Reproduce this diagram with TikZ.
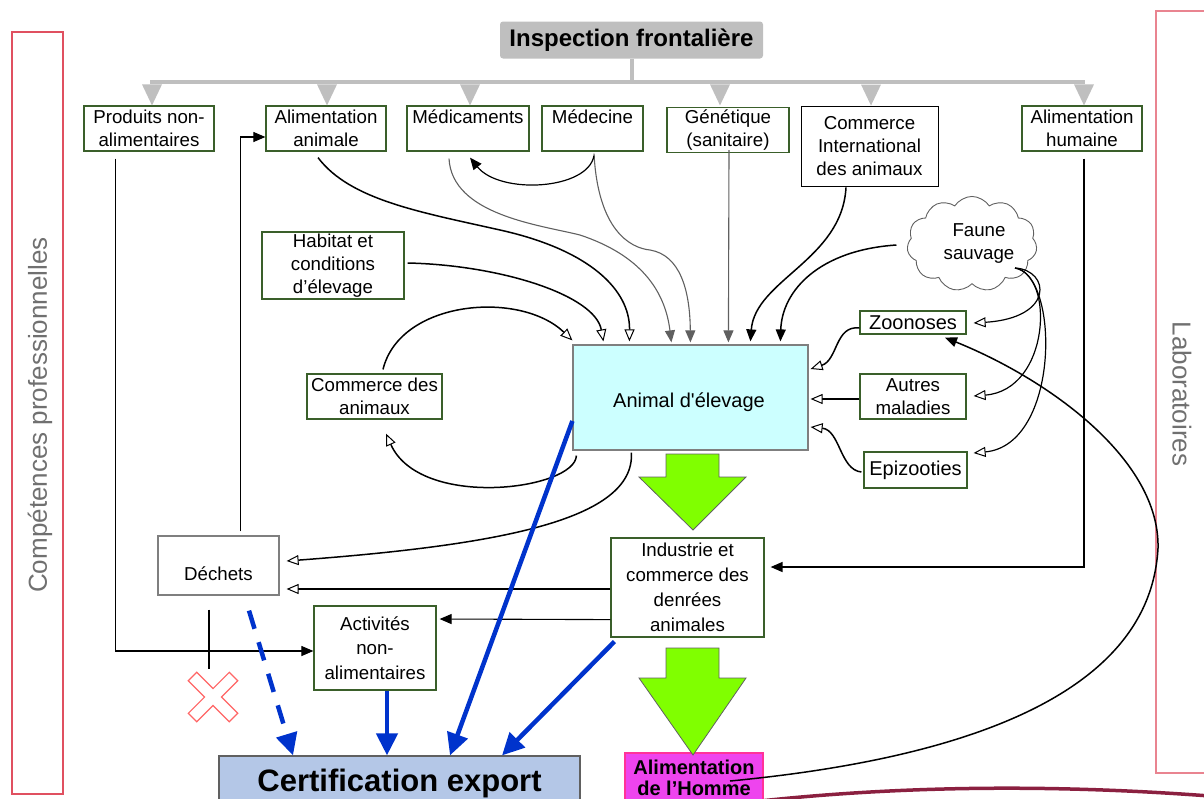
\documentclass[tikz,border=0pt]{standalone}
\usepackage{fontspec}
\setmainfont{Liberation Sans}
\usetikzlibrary{arrows.meta,shapes.symbols,calc}
\definecolor{boxgreen}{HTML}{3A5F2A}
\definecolor{inspgray}{HTML}{BFBFBF}
\definecolor{sidered}{HTML}{E05060}
\definecolor{sidetext}{HTML}{707070}
\definecolor{animcyan}{HTML}{CCFFFF}
\definecolor{certblue}{HTML}{B4C7E7}
\definecolor{homme}{HTML}{EE44EE}
\definecolor{hommeborder}{HTML}{FF3399}
\definecolor{bigarrow}{HTML}{80FF00}
\definecolor{blueline}{HTML}{0033CC}
\definecolor{thingray}{HTML}{606060}
\definecolor{boxgray}{HTML}{7F7F7F}
\definecolor{maroon}{HTML}{8B2040}
\begin{document}
\begin{tikzpicture}[x=1pt,y=-1pt,
  box/.style={draw=boxgreen, line width=1.2pt, fill=white, inner sep=0pt, align=center,
    font=\fontsize{18.7}{23}\selectfont},
  graybox/.style={box, draw=boxgray},
  boxtext/.style={inner sep=0pt, align=center, font=\fontsize{18.7}{23}\selectfont},
  insp/.style={fill=inspgray, rounded corners=3pt, minimum width=263pt, minimum height=37pt,
    inner sep=0pt, font=\bfseries\fontsize{24}{28}\selectfont},
  graytree/.style={draw=inspgray, line width=4pt},
  sidebox/.style={draw=sidered, line width=1.1pt},
  sidelabel/.style={text=sidetext, font=\fontsize{26}{30}\selectfont, inner sep=0pt},
  conn/.style={line width=1.5pt, draw=black},
  thin/.style={line width=1.1pt, draw=thingray},
  openarr/.style={-{Triangle[length=12pt,width=10pt,fill=white,line width=1pt]}},
  fillarr/.style={-{Triangle[length=12pt,width=10pt]}},
  bluearr/.style={draw=blueline, line width=4.5pt, -{Triangle[length=22pt,width=21pt]}},
  greenarr/.style={fill=bigarrow, draw=thingray, line width=0.8pt},
  redx/.style={draw=red!60, line width=1.1pt, fill=white}
]
\useasboundingbox (0,0) rectangle (1204,798);
\clip (0,0) rectangle (1204,798);

% side frames
\node[sidebox, minimum width=51pt, minimum height=762pt, inner sep=0pt] (leftframe) at (37.5,413) {};
\node[sidebox, draw=sidered!70, minimum width=60pt, minimum height=762pt, inner sep=0pt] (rightframe) at (1186,392) {};
\node[sidelabel, rotate=90] (competences) at (40,415) {Compétences professionnelles};
\node[sidelabel, rotate=-90] (labos) at (1182,394) {Laboratoires};

% maroon curve at bottom
\draw[maroon, line width=3.5pt] (760,801) .. controls (900,786) and (1050,784) .. (1210,796);

% nodes
\node[insp] (insp) at (631.5,40) {Inspection frontalière};
\node[box, minimum width=130pt, minimum height=45pt] (prod) at (149,128.5) {Produits non-\\alimentaires};
\node[box, minimum width=120pt, minimum height=45pt] (alan) at (326,128.5) {Alimentation\\animale};
\node[box, minimum width=122pt, minimum height=45pt] (medic) at (468,128.5) {Médicaments\\\mbox{}};
\node[box, minimum width=101pt, minimum height=45pt] (medec) at (592.5,128.5) {Médecine\\\mbox{}};
\node[box, minimum width=122pt, minimum height=45pt] (gen) at (728,130) {Génétique\\(sanitaire)};
\node[box, draw=black, line width=0.9pt, minimum width=137pt, minimum height=80pt] (comint) at (869.5,146) {Commerce\\International\\des animaux};
\node[box, minimum width=120pt, minimum height=45pt] (alhum) at (1082,128.5) {Alimentation\\humaine};
\node[box, minimum width=142pt, minimum height=67pt] (hab) at (333,265.5) {Habitat et\\conditions\\d’élevage};
\node[box, minimum width=135pt, minimum height=45pt] (comanim) at (374.5,396.5) {Commerce des\\animaux};
\node[graybox, fill=animcyan, minimum width=235pt, minimum height=105pt] (animal) at (690.5,397.5) {};
\node[boxtext, font=\fontsize{20}{24}\selectfont] (animaltext) at (689,402) {Animal d\textquotesingle élevage};
\node[box, minimum width=106pt, minimum height=23pt, font=\fontsize{20}{24}\selectfont] (zoo) at (913,322.5) {Zoonoses};
\node[box, minimum width=106pt, minimum height=45pt] (autres) at (913,396.5) {Autres\\maladies};
\node[box, minimum width=103pt, minimum height=36pt, font=\fontsize{20}{24}\selectfont] (epi) at (915.5,470) {Epizooties};
\node[cloud, draw=thingray, line width=0.9pt, cloud puffs=11, cloud puff arc=115, aspect=1.5,
  minimum width=130pt, minimum height=87pt, inner sep=0pt, align=center,
  font=\fontsize{18.7}{23}\selectfont] (faune) at (972,244) {\hspace*{14pt}Faune\\\hspace*{14pt}sauvage};
\node[graybox, minimum width=121pt, minimum height=59pt] (dech) at (218.5,565.5) {};
\node[boxtext] (dechtext) at (218.5,574) {Déchets};
\node[box, minimum width=153pt, minimum height=99pt, font=\fontsize{18.7}{25}\selectfont] (indus) at (687.5,587.5) {Industrie et\\commerce des\\denrées\\animales};
\node[box, minimum width=122pt, minimum height=84pt, font=\fontsize{18.7}{24.5}\selectfont] (activ) at (375,648) {Activités\\non-\\alimentaires};
\node[graybox, draw=thingray, fill=certblue, minimum width=361pt, minimum height=54pt, font=\bfseries\fontsize{31}{36}\selectfont] (cert) at (399.5,783) {Certification export};
\node[box, draw=hommeborder, fill=homme, minimum width=138pt, minimum height=50pt, font=\bfseries\fontsize{20}{21}\selectfont] (alhom) at (694,778) {Alimentation\\de l’Homme};

% gray inspection tree
\draw[graytree] (insp.south) -- ++(0,25) coordinate (hub);
\draw[graytree] ($(prod.north)+(1,-23)$) -- ($(alhum.north)+(3,-23)$);
\foreach \n/\dx in {prod/3, alan/1, medic/2, comint/1.5, alhum/2}
  \fill[inspgray] ($(\n.north)+({\dx-10},-21)$) -- ++(20,0) -- ($(\n.north)+(\dx,0)$) -- cycle;
\fill[inspgray] ($(gen.north)+(-18,-22.5)$) -- ++(20,0) -- ($(gen.north)+(-8,-1.5)$) -- cycle;

% big green arrows
\draw[greenarr] (666,454) -- (719,454) -- (719,477) -- (746,477) -- (693,530) -- (639,477) -- (666,477) -- cycle;
\draw[greenarr] (666,648) -- (719,648) -- (719,678) -- (746,678) -- (693,755) -- (639,678) -- (666,678) -- cycle;

% connectors into Animal d'élevage
\draw[conn, openarr] ($(alan.south)+(-8,6)$) .. controls (350,200) and (420,212) .. (500,230)
   .. controls (590,250) and (630,290) .. ($(animal.north west)+(57,-3)$);
\draw[conn, openarr] ($(hab.east)+(3,-2.5)$) .. controls (500,265) and (595,295) .. ($(animal.north west)+(31,-3)$);
\draw[conn, openarr] ($(comanim.north)+(8.5,-4)$) .. controls (400,300) and (520,290) .. ($(animal.north west)+(0,-4)$);
\draw[conn, openarr] ($(animal.south west)+(4,5)$) .. controls (575,490) and (420,510) .. ($(comanim.south)+(11.5,14)$);
\draw[conn, openarr] ($(animal.south west)+(59,2)$) .. controls (635,520) and (500,545) .. ($(dech.east)+(7,-4.5)$);
\draw[thin, fillarr] ($(medic.south)+(-19,7)$) .. controls (452,215) and (540,225) .. (580,235)
   .. controls (640,255) and (665,290) .. ($(animal.north west)+(99,-2)$);
\draw[thin, fillarr] ($(medec.south)+(1.5,2)$) .. controls (598,230) and (630,248) .. (650,250)
   .. controls (680,255) and (690,290) .. ($(animal.north west)+(118,-2)$);
\draw[conn, line width=1.2pt, fillarr] ($(medec.south)+(1.5,4)$) .. controls (588,190) and (500,195) .. ($(medic.south)+(2,6)$);
\draw[thin, fillarr] ($(gen.south)+(1,-3)$) -- ($(animal.north west)+(156,-2)$);
\draw[conn, fillarr] ($(comint.south)+(-23.5,1)$) .. controls (842,260) and (755,280) .. ($(animal.north west)+(178,-3)$);
\draw[conn, fillarr] ($(faune.west)+(-11,1)$) .. controls (820,250) and (782,290) .. ($(animal.north west)+(208,-3)$);

% faune sauvage to diseases
\coordinate (fs) at (1015,268);
\draw[conn, line width=1.2pt, openarr] (fs) .. controls (1050,270) and (1055,318) .. ($(zoo.east)+(7,0.5)$);
\draw[conn, line width=1.2pt, openarr] (fs) .. controls (1055,275) and (1050,390) .. ($(autres.east)+(7,-0.5)$);
\draw[conn, line width=1.2pt, openarr] (fs) .. controls (1060,275) and (1060,445) .. ($(epi.east)+(6,-17)$);

% diseases to animal
\draw[conn, openarr] ($(zoo.west)+(0,5.5)$) .. controls (835,325) and (838,360) .. ($(animal.east)+(2,-28.5)$);
\draw[conn, openarr] ($(autres.west)+(0,2.5)$) -- ($(animal.east)+(2,1.5)$);
\draw[conn, openarr] ($(epi.west)+(-2,2)$) .. controls (840,470) and (840,430) .. ($(animal.east)+(2,29.5)$);

% alimentation humaine to industrie
\draw[conn, fillarr] ($(alhum.south)+(2,7)$) |- ($(indus.east)+(6,-20.5)$);

% alimentation de l'Homme to zoonoses
\draw[conn, fillarr] ($(alhom.center)+(36,3)$) .. controls (950,760) and (1150,700) .. (1158,548)
   .. controls (1160,460) and (1050,380) .. ($(zoo.south)+(32,3)$);

% left side connectors
\draw[conn, line width=1.1pt, fillarr] ($(prod.south west)+(32,7)$) |- ($(activ.west)+(0,3)$);
\draw[conn, line width=1.1pt, fillarr] ($(dech.north east)+(-39,-4)$) |- ($(alan.west)+(0,8.5)$);
\draw[conn, line width=1.1pt] ($(dech.south)+(-9.5,14)$) -- ++(0,59) coordinate (crossend);
\begin{scope}[shift={(213,697)}, rotate=45]
  \draw[redx] (6,29)--(6,6)--(29,6)--(29,-6)--(6,-6)--(6,-29)--(-6,-29)--(-6,-6)--(-29,-6)--(-29,6)--(-6,6)--(-6,29)--cycle;
\end{scope}
\draw[conn, openarr] ($(indus.west)+(0,1.5)$) -- ($(dech.east)+(7,23.5)$);
\draw[conn, line width=1.1pt, fillarr] ($(indus.south west)+(0,-18)$) -- ($(activ.east)+(3,-29)$);

% blue arrows to certification
\draw[bluearr] ($(animal.west)+(0,23.5)$) -- ($(cert.north)+(50.5,0)$);
\draw[bluearr] ($(indus.south west)+(4,4)$) -- ($(cert.north)+(102.5,0)$);
\draw[bluearr] ($(activ.south)+(12,0)$) -- ($(cert.north)+(-12.5,0)$);
\draw[bluearr, dash pattern=on 19pt off 14pt] ($(dech.south)+(30.5,15)$) -- ($(cert.north)+(-106.5,0)$);
\end{tikzpicture}
\end{document}
